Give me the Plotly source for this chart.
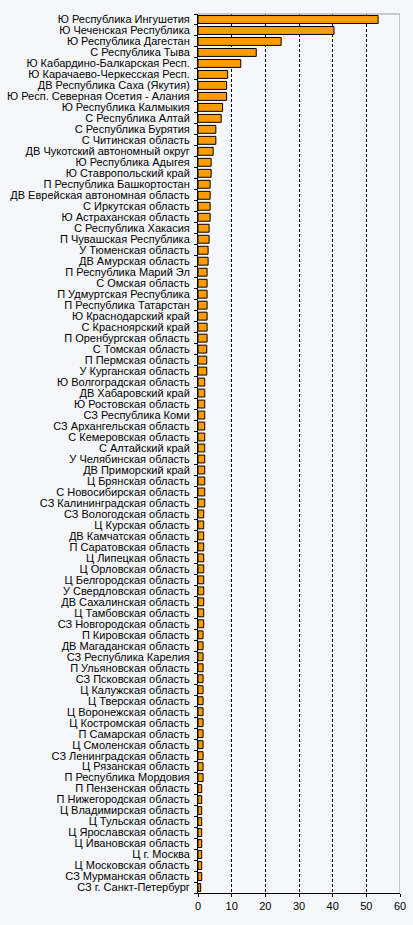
import plotly.graph_objects as go

regions = [
    "Ю Республика Ингушетия", "Ю Чеченская Республика", "Ю Республика Дагестан",
    "С Республика Тыва", "Ю Кабардино-Балкарская Респ.", "Ю Карачаево-Черкесская Респ.",
    "ДВ Республика Саха (Якутия)", "Ю Респ. Северная Осетия - Алания", "Ю Республика Калмыкия",
    "С Республика Алтай", "С Республика Бурятия", "С Читинская область",
    "ДВ Чукотский автономный округ", "Ю Республика Адыгея", "Ю Ставропольский край",
    "П Республика Башкортостан", "ДВ Еврейская автономная область", "С Иркутская область",
    "Ю Астраханская область", "С Республика Хакасия", "П Чувашская Республика",
    "У Тюменская область", "ДВ Амурская область", "П Республика Марий Эл",
    "С Омская область", "П Удмуртская Республика", "П Республика Татарстан",
    "Ю Краснодарский край", "С Красноярский край", "П Оренбургская область",
    "С Томская область", "П Пермская область", "У Курганская область",
    "Ю Волгоградская область", "ДВ Хабаровский край", "Ю Ростовская область",
    "СЗ Республика Коми", "СЗ Архангельская область", "С Кемеровская область",
    "С Алтайский край", "У Челябинская область", "ДВ Приморский край",
    "Ц Брянская область", "С Новосибирская область", "СЗ Калининградская область",
    "СЗ Вологодская область", "Ц Курская область", "ДВ Камчатская область",
    "П Саратовская область", "Ц Липецкая область", "Ц Орловская область",
    "Ц Белгородская область", "У Свердловская область", "ДВ Сахалинская область",
    "Ц Тамбовская область", "СЗ Новгородская область", "П Кировская область",
    "ДВ Магаданская область", "СЗ Республика Карелия", "П Ульяновская область",
    "СЗ Псковская область", "Ц Калужская область", "Ц Тверская область",
    "Ц Воронежская область", "Ц Костромская область", "П Самарская область",
    "Ц Смоленская область", "СЗ Ленинградская область", "Ц Рязанская область",
    "П Республика Мордовия", "П Пензенская область", "П Нижегородская область",
    "Ц Владимирская область", "Ц Тульская область", "Ц Ярославская область",
    "Ц Ивановская область", "Ц г. Москва", "Ц Московская область",
    "СЗ Мурманская область", "СЗ г. Санкт-Петербург",
]

values = [
    53.5, 40.4, 24.7, 17.3, 12.7, 8.8, 8.5, 8.5, 7.3, 6.9,
    5.3, 5.3, 4.5, 3.9, 3.9, 3.6, 3.6, 3.6, 3.6, 3.3,
    3.3, 3.0, 3.0, 2.7, 2.7, 2.7, 2.7, 2.7, 2.7, 2.7,
    2.6, 2.6, 2.6, 2.0, 2.0, 2.0, 2.0, 2.0, 2.0, 2.0,
    2.0, 2.0, 2.0, 2.0, 2.0, 1.7, 1.7, 1.7, 1.7, 1.7,
    1.7, 1.7, 1.7, 1.7, 1.7, 1.7, 1.5, 1.5, 1.5, 1.5,
    1.5, 1.5, 1.5, 1.5, 1.5, 1.5, 1.5, 1.5, 1.5, 1.5,
    1.1, 1.1, 1.1, 1.1, 1.1, 1.1, 1.1, 1.1, 1.1, 0.8,
]

x_ticks = [0, 10, 20, 30, 40, 50, 60]

FONT = "Liberation Sans, Arial, sans-serif"

fig = go.Figure(
    go.Bar(
        x=values,
        y=regions,
        orientation="h",
        width=0.72,
        marker=dict(color="#ff9c00", line=dict(color="#000000", width=1)),
        hoverinfo="x+y",
    )
)

fig.update_layout(
    template="none",
    width=413,
    height=925,
    margin=dict(l=198, r=13, t=14, b=32, autoexpand=False),
    paper_bgcolor="#f6f7fb",
    plot_bgcolor="#f6f7fb",
    showlegend=False,
    font=dict(family=FONT, size=11, color="#000000"),
)

fig.update_xaxes(
    range=[0, 60],
    tickmode="array",
    tickvals=x_ticks,
    ticktext=[str(t) for t in x_ticks],
    showgrid=True,
    gridcolor="#000000",
    gridwidth=1,
    griddash="3px,2px",
    zeroline=False,
    showline=True,
    linecolor="#000000",
    linewidth=1,
    ticks="outside",
    ticklen=3,
    tickcolor="#000000",
    tickfont=dict(family=FONT, size=11, color="#000000"),
    automargin=False,
    fixedrange=True,
)

fig.update_yaxes(
    autorange="reversed",
    type="category",
    tickmode="array",
    tickvals=regions,
    ticktext=regions,
    showgrid=False,
    zeroline=False,
    showline=True,
    linecolor="#000000",
    linewidth=1,
    ticks="outside",
    tickson="boundaries",
    ticklen=3,
    tickcolor="#000000",
    ticklabelstandoff=5,
    tickfont=dict(family=FONT, size=11, color="#000000"),
    automargin=False,
    fixedrange=True,
)

# plot frame on right and top (gray)
fig.add_shape(type="line", xref="x", yref="paper", x0=60, x1=60, y0=0, y1=1,
              line=dict(color="#9a9a9a", width=1))
fig.add_shape(type="line", xref="paper", yref="paper", x0=0, x1=1, y0=1, y1=1,
              line=dict(color="#9a9a9a", width=1))

fig.write_html(
    "out.html",
    config={"displayModeBar": False},
    post_script="document.body.style.margin='0';document.body.style.background='#f6f7fb';",
)
